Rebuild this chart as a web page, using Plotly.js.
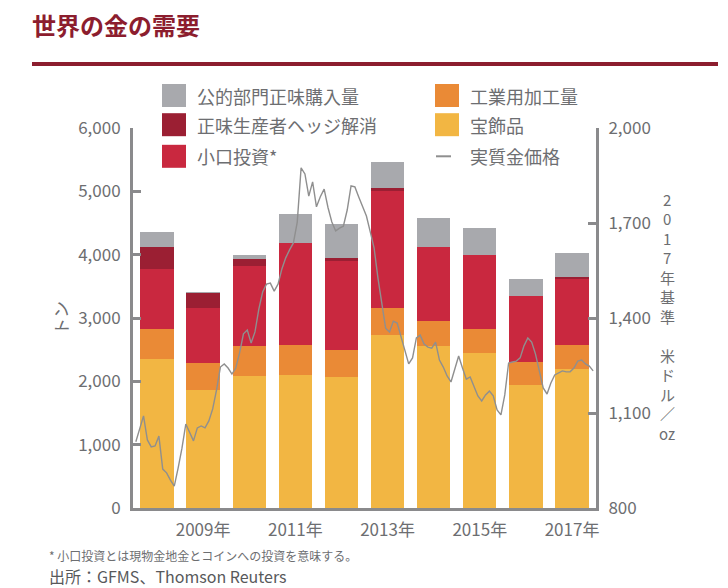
<!DOCTYPE html>
<html>
<head>
<meta charset="utf-8">
<script src="https://cdn.plot.ly/plotly-3.0.1.min.js"></script>
<style>
  html, body { margin: 0; padding: 0; background: #fff; }
  #chart { width: 728px; height: 588px; }
</style>
</head>
<body>
<div id="chart"></div>
<script>
// annual demand, tonnes (2008-2017)
const years = [2008, 2009, 2010, 2011, 2012, 2013, 2014, 2015, 2016, 2017];
const jewellery = [2358, 1863, 2089, 2100, 2068, 2732, 2553, 2447, 1942, 2200];
const industrial = [474, 421, 474, 468, 427, 426, 400, 379, 363, 379];
const retailInvestment = [942, 874, 1258, 1616, 1410, 1853, 1168, 1163, 1042, 1031];
const producerDehedging = [352, 231, 105, 0, 37, 42, 0, 0, 0, 37];
const officialSector = [232, 27, 74, 453, 547, 410, 463, 437, 269, 374];

// monthly real gold price, 2017 USD/oz, Jan 2008 - Dec 2017
const realGoldPrice = [
  1009, 1053, 1091, 1015, 993, 996, 1027, 923, 911, 888, 869, 926,
  989, 1065, 1037, 1012, 1053, 1059, 1053, 1075, 1113, 1173, 1245, 1255,
  1242, 1223, 1242, 1290, 1350, 1362, 1321, 1356, 1428, 1482, 1507, 1510,
  1485, 1507, 1555, 1590, 1615, 1637, 1703, 1874, 1855, 1785, 1830, 1751,
  1783, 1807, 1749, 1703, 1675, 1684, 1690, 1741, 1817, 1814, 1782, 1754,
  1722, 1672, 1621, 1526, 1441, 1368, 1356, 1390, 1384, 1343, 1302, 1255,
  1274, 1337, 1346, 1318, 1308, 1305, 1324, 1267, 1245, 1217, 1198, 1236,
  1280, 1242, 1207, 1214, 1185, 1154, 1138, 1157, 1169, 1154, 1110, 1094,
  1157, 1258, 1261, 1264, 1274, 1312, 1337, 1324, 1286, 1236, 1179, 1160,
  1195, 1220, 1226, 1233, 1230, 1230, 1242, 1264, 1267, 1255, 1248, 1233
];

const tickYears = [2009, 2011, 2013, 2015, 2017];
const tickYearLabels = ["2009年", "2011年", "2013年", "2015年", "2017年"];

const names = {
    official: "公的部門正味購入量",
    hedge: "正味生産者ヘッジ解消",
    retail: "小口投資*",
    industrial: "工業用加工量",
    jewellery: "宝飾品",
    price: "実質金価格"
};

const colors = {
    official: "#a8a9ad",
    hedge: "#9b1f33",
    retail: "#c9283f",
    industrial: "#ea8a36",
    jewellery: "#f2b643",
    price: "#8f8f8f"
};

// right axis title, written top to bottom one glyph at a time
const rightTitleChars = ["2", "0", "1", "7", "年", "基", "準", "米", "ド", "ル", "／", "oz"];

const FONT = "Noto Sans CJK JP, Noto Sans, sans-serif";
const AXIS_GRAY = "#8a8a8c";
const TEXT_GRAY = "#6d6e71";

// plot area in page pixels
const L = 133, R = 596, T = 128, B = 508;
function px(x) { return (x - L) / (R - L); }
function py(y) { return (B - y) / (B - T); }

// month positions across each year's slot
const priceX = realGoldPrice.map((v, i) => years[0] - 0.5 + (i + 0.5) / 12);

function barTrace(values, key) {
    return {
        x: years,
        y: values,
        type: "bar",
        name: names[key],
        width: 0.72,
        marker: {color: colors[key], line: {width: 0}},
        hoverinfo: "x+y+name"
    };
}

const data = [
    barTrace(jewellery, "jewellery"),
    barTrace(industrial, "industrial"),
    barTrace(retailInvestment, "retail"),
    barTrace(producerDehedging, "hedge"),
    barTrace(officialSector, "official"),
    {
        x: priceX,
        y: realGoldPrice,
        type: "scatter",
        mode: "lines",
        name: names.price,
        yaxis: "y2",
        line: {color: colors.price, width: 1.4}
    }
];

// hand-made legend, two columns like the original
const legendRows = [
    [{key: "official"}, {key: "industrial"}],
    [{key: "hedge"}, {key: "jewellery"}],
    [{key: "retail"}, {key: "price", line: true}]
];
const rowCentres = [95.5, 124.7, 156.3];
const colLeft = [162, 435];

const shapes = [
    // red rule under the heading
    {type: "line", xref: "paper", yref: "paper",
     x0: px(32), x1: px(718), y0: py(64), y1: py(64),
     line: {color: "#8c1d2e", width: 4}}
];
const annotations = [
    {text: "世界の金の需要", xref: "paper", yref: "paper",
     x: px(30), y: py(25), xanchor: "left", yanchor: "middle", showarrow: false,
     font: {family: FONT, size: 24, color: "#8c1d2e", weight: 700}},
    {text: "トン", xref: "paper", yref: "paper",
     x: px(60), y: py(318), xanchor: "center", yanchor: "middle", showarrow: false,
     textangle: -90,
     font: {family: FONT, size: 17, color: TEXT_GRAY}},
    {text: "* 小口投資とは現物金地金とコインへの投資を意味する。", xref: "paper", yref: "paper",
     x: px(47), y: py(555), xanchor: "left", yanchor: "middle", showarrow: false,
     font: {family: FONT, size: 12, color: TEXT_GRAY}},
    {text: "出所：GFMS、Thomson Reuters", xref: "paper", yref: "paper",
     x: px(47), y: py(576), xanchor: "left", yanchor: "middle", showarrow: false,
     font: {family: FONT, size: 16, color: "#58595b"}}
];

// 19.5px per glyph, with one blank slot between 準 and 米
rightTitleChars.forEach((ch, i) => {
    const slot = i < 7 ? i : i + 1;
    annotations.push({text: ch, xref: "paper", yref: "paper",
        x: px(667), y: py(199 + slot * 19.5), xanchor: "center", yanchor: "middle",
        showarrow: false, borderpad: 0,
        font: {family: FONT, size: 15, color: TEXT_GRAY}});
});

legendRows.forEach((row, r) => {
    row.forEach((item, c) => {
        const cy = rowCentres[r];
        const x0 = colLeft[c];
        if (item.line) {
            shapes.push({type: "line", xref: "paper", yref: "paper",
                x0: px(x0 + 1), x1: px(x0 + 16), y0: py(cy), y1: py(cy),
                line: {color: colors[item.key], width: 2}});
        } else {
            shapes.push({type: "rect", xref: "paper", yref: "paper",
                x0: px(x0), x1: px(x0 + 24), y0: py(cy - 11.5), y1: py(cy + 11.5),
                fillcolor: colors[item.key], line: {width: 0}});
        }
        annotations.push({text: names[item.key], xref: "paper", yref: "paper",
            x: px(x0 + 33), y: py(cy), xanchor: "left", yanchor: "middle", showarrow: false,
            font: {family: FONT, size: 18, color: TEXT_GRAY}});
    });
});

const layout = {
    width: 728,
    height: 588,
    margin: {l: L, r: 728 - R, t: T, b: 588 - B, pad: 0},
    paper_bgcolor: "#ffffff",
    plot_bgcolor: "#ffffff",
    barmode: "stack",
    bargap: 0.28,
    showlegend: false,
    font: {family: FONT, color: TEXT_GRAY},
    xaxis: {
        range: [2007.48, 2017.52],
        tickvals: tickYears,
        ticktext: tickYearLabels,
        ticks: "",
        showgrid: false,
        zeroline: false,
        showline: true,
        linecolor: AXIS_GRAY,
        linewidth: 3,
        ticklabelstandoff: 5,
        tickfont: {family: FONT, size: 17, color: TEXT_GRAY}
    },
    yaxis: {
        range: [0, 6000],
        dtick: 1000,
        tickformat: ",d",
        ticks: "inside",
        ticklen: 8,
        tickwidth: 3,
        tickcolor: AXIS_GRAY,
        showgrid: false,
        zeroline: false,
        showline: true,
        linecolor: AXIS_GRAY,
        linewidth: 3,
        ticklabelstandoff: 6,
        tickfont: {family: FONT, size: 17, color: TEXT_GRAY}
    },
    yaxis2: {
        range: [800, 2000],
        dtick: 300,
        tick0: 800,
        tickformat: ",d",
        overlaying: "y",
        side: "right",
        ticks: "inside",
        ticklen: 8,
        tickwidth: 3,
        tickcolor: AXIS_GRAY,
        showgrid: false,
        zeroline: false,
        showline: true,
        linecolor: AXIS_GRAY,
        linewidth: 3,
        ticklabelstandoff: 6,
        tickfont: {family: FONT, size: 17, color: TEXT_GRAY}
    },
    shapes: shapes,
    annotations: annotations
};

Plotly.newPlot("chart", data, layout, {displayModeBar: false, staticPlot: true});
</script>
</body>
</html>
